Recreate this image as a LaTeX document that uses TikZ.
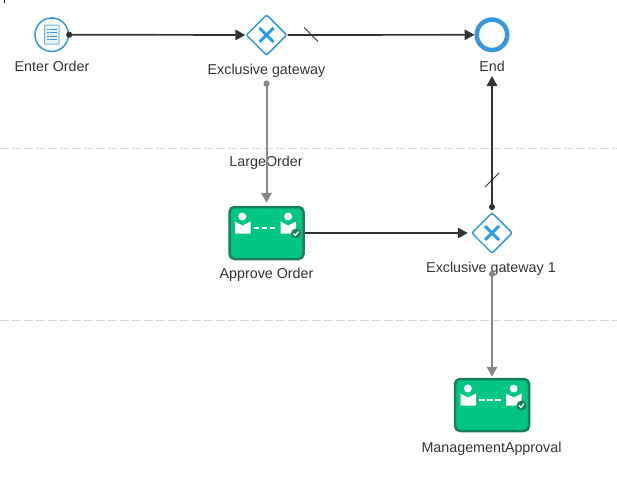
\documentclass[tikz,border=0pt]{standalone}
\usepackage{fontspec}
\setmainfont{Liberation Sans}
\usetikzlibrary{arrows.meta, calc, positioning, shapes.geometric}
\definecolor{flowBlue}{HTML}{3498DB}
\definecolor{crossBlue}{HTML}{2D9CEB}
\definecolor{flowDark}{HTML}{333333}
\definecolor{flowGray}{HTML}{888888}
\definecolor{taskGreen}{HTML}{00C584}
\definecolor{taskEdge}{HTML}{1B8059}
\definecolor{laneGray}{HTML}{D9D9D9}
\tikzset{
    lane/.style={laneGray, line width=1pt, dash pattern=on 9pt off 3pt},
    lbl/.style={font=\fontsize{14.3}{16}\selectfont, text=flowDark, inner sep=0pt},
    gateway/.style={diamond, draw=flowBlue, fill=white, line width=1.5pt, rounded corners=2pt, minimum width=41pt, minimum height=41pt, inner sep=0pt},
    startev/.style={circle, draw=flowBlue, fill=white, line width=1.5pt, minimum size=33.5pt, inner sep=0pt},
    endev/.style={circle, draw=flowBlue, fill=white, line width=4.5pt, minimum size=30.5pt, inner sep=0pt},
    taskbox/.style={rectangle, draw=taskEdge, fill=taskGreen, line width=2.5pt, rounded corners=5pt, minimum width=74pt, minimum height=52pt, inner sep=0pt},
    mainflow/.style={flowDark, line width=1.7pt, -{Triangle[length=10pt,width=10.5pt]}},
    dotflow/.style={mainflow, {Circle[length=6pt,width=6pt]}-{Triangle[length=10pt,width=10.5pt]}},
    condflow/.style={flowGray, line width=2pt, {Circle[length=6pt,width=6pt]}-{Triangle[length=10pt,width=10.5pt]}},
    slash/.style={flowDark, line width=1pt},
    xmark/.style={crossBlue, line width=3pt},
    approval/.pic={
        \fill[white] (-24.2,-17) circle (4pt);
        \fill[white] (21.7,-17) circle (4pt);
        \fill[white] (-31.5,-12) -- (-24,-8) -- (-16,-12) -- (-16,0) -- (-31.5,0) -- cycle;
        \fill[white] (14,-12) -- (21.7,-8) -- (29.5,-12) -- (29.5,0) -- (14,0) -- cycle;
        \draw[white, line width=2pt, dash pattern=on 5.5pt off 2.5pt] (-13,-6) -- (11,-6);
        \fill[taskEdge] (29.5,0) circle (5pt);
        \draw[white, line width=1.2pt] (27,0) -- (28.8,2) -- (32,-2);
    }
}

\begin{document}
\begin{tikzpicture}[x=1pt, y=-1pt]
    \useasboundingbox (0,0) rectangle (617,493);

    % swimlane borders
    \draw[lane] (0,148.5) -- (617,148.5);
    \draw[lane] (0,320.5) -- (617,320.5);
    \draw[black, line width=0.7pt] (4,0) -- (4,3);

    % labels go under the connectors
    \node[lbl] (startlbl) at (52,66) {Enter Order};
    \node[lbl] (gatelbl) at (266.5,70.5) {Exclusive gateway};
    \node[lbl] (endlbl) at (492,66) {End};
    \node[lbl] (condlbl) at (266,162.5) {LargeOrder};
    \node[lbl] (approvelbl) at (266.5,275) {Approve Order};
    \node[lbl] (gateonelbl) at (491,268.5) {Exclusive gateway 1};
    \node[lbl] (mgmtlbl) at (491.5,448.5) {ManagementApproval};

    % start event with its form icon
    \node[startev] (start) at (51.7,34.7) {};
    \draw[flowBlue!70, line width=1pt, fill=flowBlue!12, rounded corners=0.5pt] (44.5,25) rectangle (59,44);
    \foreach \y in {29,32.5,36,39.5} {
        \draw[flowBlue, line width=1pt] (47,\y) -- (48.5,\y);
        \draw[flowBlue, line width=1pt] (49.5,\y) -- (56.5,\y);
    }

    \node[gateway] (gate) at (266.5,35) {};
    \node[endev] (end) at (492,34.8) {};
    \node[gateway] (gateone) at (492,233) {};
    \foreach \g in {gate, gateone} {
        \draw[xmark] ($(\g.center)+(-7,-7)$) -- ($(\g.center)+(7,7)$);
        \draw[xmark] ($(\g.center)+(-7,7)$) -- ($(\g.center)+(7,-7)$);
    }

    \node[taskbox] (approve) at (266.5,233) {};
    \pic at (266.5,233.5) {approval};
    \node[taskbox] (mgmt) at (492,405) {};
    \pic at (492,405.5) {approval};

    \coordinate (gatedot) at (266.5,80.5);
    \coordinate (updot) at (492,210);
    \coordinate (endtip) at (492,76);
    \coordinate (downdot) at (492,271);
    \coordinate (slashA) at (311,34.5);
    \coordinate (slashB) at (492,180);

    \draw[dotflow, shorten <=-3pt] (start) -- (gate);
    \draw[mainflow] (gate) -- (end);
    \draw[dotflow] (updot) -- (endtip);
    \draw[mainflow, shorten >=3pt] (approve) -- (gateone);
    \draw[condflow, shorten >=3pt] (gatedot) -- (approve);
    \draw[condflow, shorten >=1pt] (downdot) -- (mgmt);

    % slashes over the default flows
    \draw[slash] ($(slashA)+(-7,-7)$) -- ($(slashA)+(7,7)$);
    \draw[slash] ($(slashB)+(-7,7)$) -- ($(slashB)+(7,-7)$);
\end{tikzpicture}
\end{document}
